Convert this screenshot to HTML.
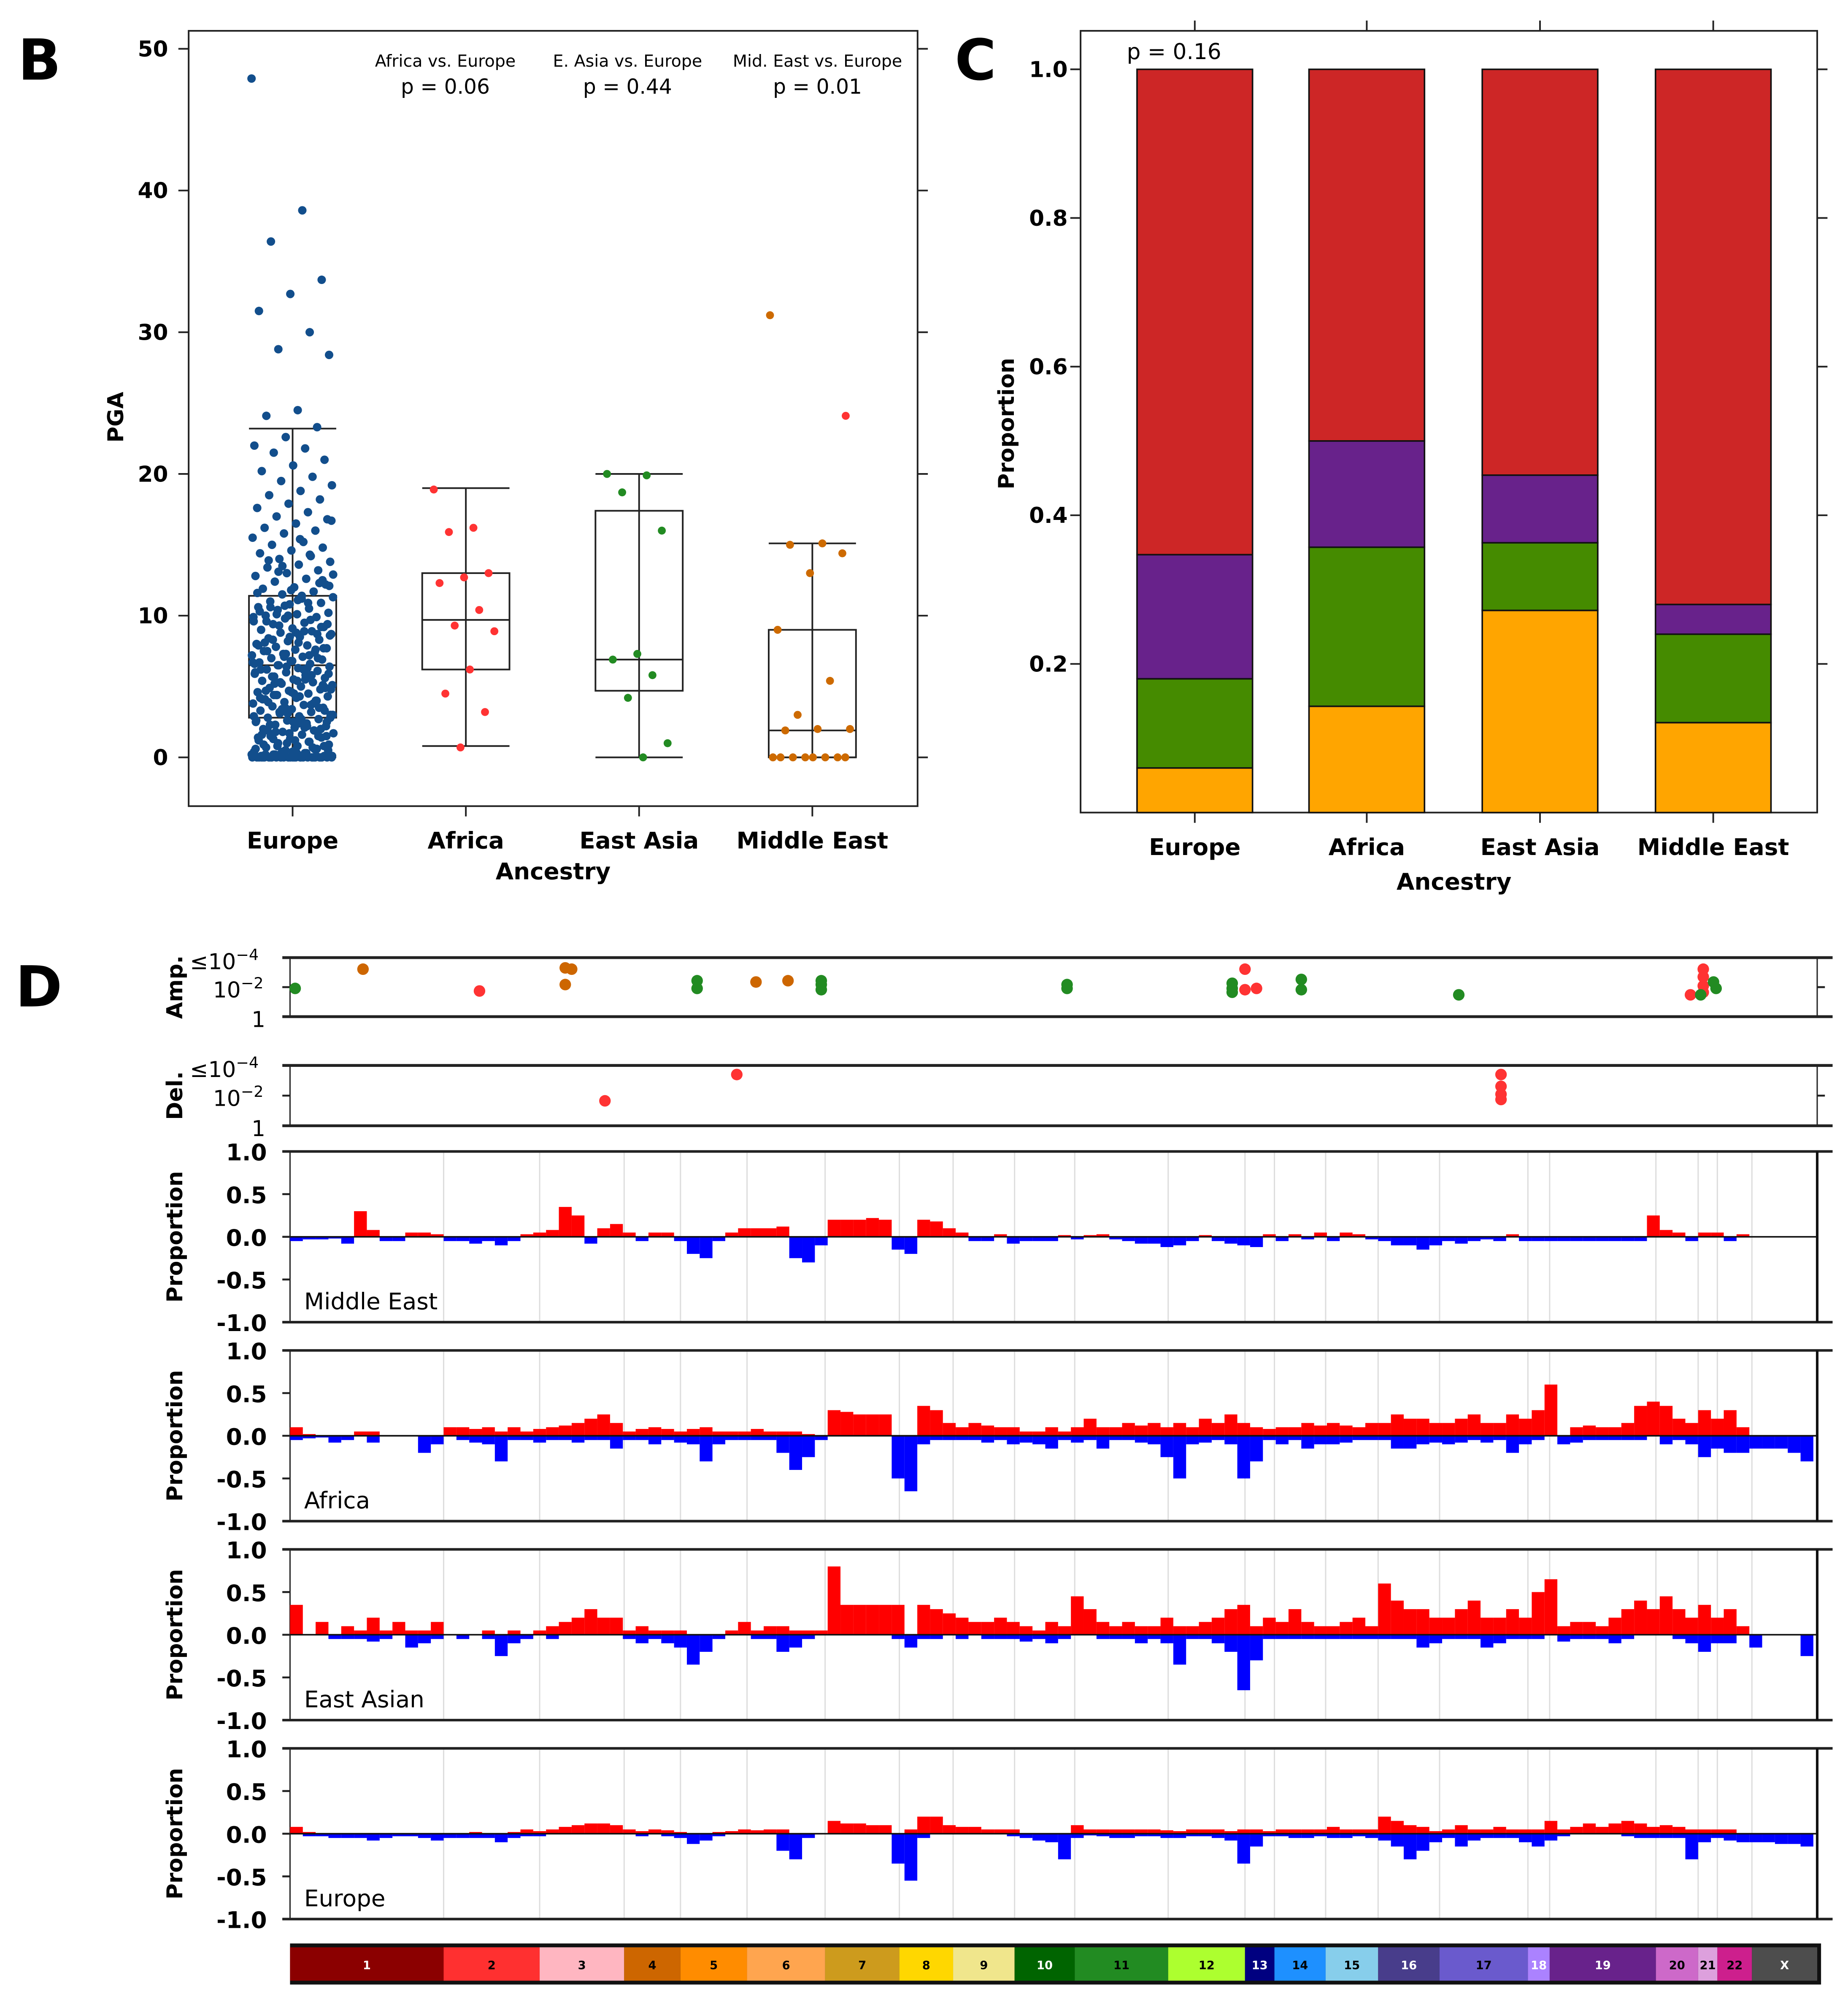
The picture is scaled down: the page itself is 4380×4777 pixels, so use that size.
<!DOCTYPE html>
<html><head><meta charset="utf-8">
<style>
html,body{margin:0;padding:0;background:#fff;}
svg{display:block;}
text{font-family:"DejaVu Sans","Liberation Sans",sans-serif;}
</style></head>
<body>
<svg id="fig" xmlns="http://www.w3.org/2000/svg" width="4380" height="4777" viewBox="0 0 1440 1570.5">
<rect x="0" y="0" width="1440" height="1571" fill="#fff"/>
<g id="panelB"></g>
<g id="panelC"></g>
<g id="panelD"></g>
</svg>
<script>
// ---------- Panel B data ----------
const bCats = ["Europe","Africa","East Asia","Middle East"];
const bTicks = [0,10,20,30,40,50];
const bBoxQ1 = [2.8,6.2,4.7,0];
const bBoxMed = [6.5,9.7,6.9,1.9];
const bBoxQ3 = [11.4,13.0,17.4,9.0];
const bWhiskLo = [0,0.8,0,0];
const bWhiskHi = [23.2,19.0,20.0,15.1];
const europeVals = [47.9,38.6,36.4,33.7,32.7,31.5,30.0,28.8,28.4,24.5,24.1,23.3,22.6,
22.0,21.8,21.5,21.0,20.6,20.2,19.8,19.5,19.2,18.8,18.5,18.2,17.9,17.6,17.3,17.0,16.8,16.5,16.2,16.0,15.8,15.5,15.2,15.0,14.8,14.6,14.4,14.2,14.0,13.8,13.6,13.4,13.2,13.0,12.8,12.6,12.4,12.2,12.0,11.9,11.7,11.5,11.3,11.2,11.0,10.9,10.8,10.6,10.5,10.4,10.2,10.1,10.0,9.9,9.8,9.6,9.5,9.4,9.2,9.1,9.0,8.9,8.8,8.7,8.5,8.4,8.3,8.2,8.0,7.9,7.8,7.7,7.6,7.5,7.4,7.3,7.2,7.1,7.0,6.9,6.8,6.7,6.6,6.5,6.4,6.3,6.2,6.1,6.0,5.9,5.8,5.7,5.6,5.5,5.4,5.3,5.2,5.1,5.0,4.9,4.8,4.7,4.6,4.5,4.4,4.3,4.2,4.1,4.0,3.9,3.8,3.7,3.6,3.5,3.4,3.3,3.2,3.1,3.0,2.9,2.8,2.7,2.6,2.5,2.4,2.3,2.2,2.1,2.0,1.9,1.8,1.7,1.6,1.5,1.4,1.3,1.2,1.1,1.0,0.9,0.8,0.7,0.6,0.5,0.4,0.3,0.2,0.1,0,0,0,0,0,0,0,0,0,0,0,0,0,0,0,0,0,0,0,0,
12.5,11.8,10.3,9.7,9.3,8.6,8.1,7.5,7.0,6.4,6.0,5.6,5.2,4.9,4.5,4.1,3.8,3.4,3.0,2.7,2.3,2.0,1.7,1.4,1.1,0.8,0.5,0.3,0.2,0.1,
10.7,9.9,8.9,8.3,7.7,6.8,6.2,5.8,5.3,4.8,4.3,3.9,3.5,3.1,2.6,2.2,1.8,1.5,1.2,0.9,0.6,0.4,0.2,0.1,0,0,0,0,
14.3,13.1,12.1,11.1,9.6,8.7,7.3,6.6,5.5,4.4,3.3,2.5,1.6,0.7,0.3,0.1,0,0,0,0,
11.6,10.9,10.1,9.4,8.8,8.1,7.6,7.1,6.7,6.2,5.7,5.1,4.6,4.2,3.7,3.2,2.8,2.4,1.9,1.5,1.0,0.6,0.3,0.2,0.1,0,0,0,
13.5,12.9,11.4,10.6,9.2,8.5,7.9,7.2,6.5,5.9,5.4,4.7,4.0,3.5,2.9,2.1,1.3,0.8,0.4,0.1,0,0,
16.7,15.4,13.9,12.3,10.0,8.0,6.3,4.4,2.5,0.5];
const africaVals = [18.9,16.2,15.9,13.0,12.7,12.3,10.4,9.3,8.9,6.2,4.5,3.2,0.7];
const eastAsiaVals = [20.0,19.9,18.7,16.0,7.3,6.9,5.8,4.2,1.0,0];
const middleEastVals = [31.2,15.1,15.0,14.4,13.0,9.0,5.4,3.0,2.0,2.0,1.9,0,0,0,0,0,0,0,0];
const middleEastRedVals = [24.1];
const bPvalLabels = ["Africa vs. Europe","E. Asia vs. Europe","Mid. East vs. Europe"];
const bPvals = ["p = 0.06","p = 0.44","p = 0.01"];

// ---------- Panel C data ----------
const cCats = ["Europe","Africa","East Asia","Middle East"];
const cTicks = [0.2,0.4,0.6,0.8,1.0];
const cOrange = [0.060,0.143,0.272,0.121];
const cGreen = [0.120,0.214,0.091,0.119];
const cPurple = [0.167,0.143,0.091,0.040];
const cRed = [0.653,0.500,0.546,0.720];

// ---------- Panel D data ----------
const chromNames = ["1","2","3","4","5","6","7","8","9","10","11","12","13","14","15","16","17","18","19","20","21","22","X"];
const chromSizes = [120,75,66,44,52,61,58,42,48,47,73,60,23,40,41,48,69,17,83,33,15,27,51];
const chromColors = ["#8b0000","#ff3030","#ffb6c1","#cd6600","#ff8c00","#ffa54f","#cd9b1d","#ffd700","#f0e68c","#006400","#228b22","#adff2f","#000080","#1e90ff","#87ceeb","#483d8b","#6a5acd","#ab82ff","#68228b","#cd69c9","#dda0dd","#cd1f8d","#4d4d4d"];
const dTicks = [1.0,0.5,0.0,-0.5,-1.0];
const ampPos = [4,57,148,215,220,215,318,318,364,389,415,415,415,607,607,736,736,736,746,746,755,790,790,913,1094,1104,1104,1104,1104,1112,1114,1102];
const ampSig = [2.0,3.5,1.8,3.6,3.5,2.3,2.6,2.0,2.5,2.6,2.6,2.3,1.9,2.3,2.0,2.4,1.7,2.0,3.5,1.9,2.0,2.7,1.9,1.5,1.5,3.5,2.9,2.2,1.7,2.5,2.0,1.5];
const ampCol = ["g","o","r","o","o","o","g","g","o","o","g","g","g","g","g","g","g","g","r","r","r","g","g","g","r","r","r","r","r","g","g","g"];
const delPos = [246,349,946,946,946,946];
const delSig = [1.7,3.7,3.7,2.8,2.2,1.8];
const meGain = [0,0,0,0,0,0.3,0.08,0,0,0.05, 0.05,0.03,0,0,0,0,0,0,0.03,0.05, 0.08,0.35,0.25,0,0.1,0.15,0.05,0,0.05,0.05, 0,0,0,0,0.05,0.1,0.1,0.1,0.12,0, 0,0,0.2,0.2,0.2,0.22,0.2,0,0,0.2, 0.18,0.1,0.05,0,0,0.03,0,0,0,0, 0.02,0,0.02,0.03,0,0,0,0,0,0, 0,0.02,0,0,0,0,0.03,0,0.03,0, 0.05,0,0.05,0.03,0,0,0,0,0,0, 0,0,0,0,0,0.03,0,0,0,0, 0,0,0,0,0,0,0.25,0.08,0.05,0, 0.05,0.05,0,0.03,0,0,0,0,0];
const meLoss = [0.05,0.03,0.03,0.02,0.08,0,0,0.05,0.05,0, 0,0,0.05,0.05,0.08,0.05,0.1,0.05,0,0, 0,0,0,0.08,0,0,0,0.05,0,0, 0.05,0.2,0.25,0.05,0,0,0,0,0,0.25, 0.3,0.1,0,0,0,0,0,0.15,0.2,0, 0,0,0,0.05,0.05,0,0.08,0.05,0.05,0.05, 0,0.03,0,0,0.03,0.05,0.08,0.08,0.12,0.1, 0.05,0,0.05,0.08,0.1,0.12,0,0.05,0,0.03, 0,0.05,0,0,0.03,0.05,0.1,0.1,0.15,0.1, 0.05,0.08,0.05,0.03,0.05,0,0.05,0.05,0.05,0.05, 0.05,0.05,0.05,0.05,0.05,0.05,0,0,0,0.05, 0,0,0.05,0,0,0,0,0,0];
const afGain = [0.1,0.02,0,0,0,0.05,0.05,0,0,0, 0,0,0.1,0.1,0.08,0.1,0.05,0.1,0.05,0.08, 0.1,0.12,0.15,0.2,0.25,0.15,0.05,0.08,0.1,0.08, 0.05,0.08,0.1,0.05,0.05,0.05,0.08,0.05,0.05,0.05, 0.02,0,0.3,0.28,0.25,0.25,0.25,0,0,0.35, 0.3,0.15,0.1,0.15,0.12,0.1,0.1,0.05,0.05,0.1, 0.05,0.1,0.2,0.1,0.1,0.15,0.12,0.15,0.1,0.15, 0.1,0.2,0.15,0.25,0.15,0.1,0.08,0.1,0.1,0.15, 0.12,0.15,0.12,0.1,0.15,0.15,0.25,0.2,0.2,0.15, 0.15,0.2,0.25,0.15,0.15,0.25,0.2,0.3,0.6,0, 0.1,0.12,0.1,0.1,0.15,0.35,0.4,0.35,0.2,0.15, 0.3,0.2,0.3,0.1,0,0,0,0,0];
const afLoss = [0.05,0.03,0.02,0.08,0.05,0,0.08,0,0,0, 0.2,0.1,0,0.05,0.08,0.1,0.3,0.05,0.05,0.08, 0.05,0.05,0.08,0.05,0.05,0.15,0.05,0.05,0.1,0.05, 0.08,0.1,0.3,0.1,0.05,0.05,0.05,0.05,0.2,0.4, 0.25,0.05,0,0,0,0,0,0.5,0.65,0.1, 0.05,0.05,0.05,0.05,0.08,0.05,0.1,0.08,0.1,0.15, 0.05,0.08,0.05,0.15,0.05,0.05,0.08,0.1,0.25,0.5, 0.1,0.08,0.05,0.1,0.5,0.3,0.05,0.1,0.05,0.15, 0.1,0.1,0.08,0.05,0.05,0.05,0.15,0.15,0.1,0.08, 0.1,0.08,0.05,0.08,0.05,0.2,0.1,0.05,0,0.1, 0.08,0.05,0.05,0.05,0.05,0.05,0,0.1,0.05,0.1, 0.25,0.15,0.2,0.2,0.15,0.15,0.15,0.2,0.3];
const eaGain = [0.35,0,0.15,0,0.1,0.05,0.2,0.05,0.15,0.05, 0.05,0.15,0,0,0,0.05,0,0.05,0,0.05, 0.1,0.15,0.2,0.3,0.2,0.2,0.05,0.1,0.05,0.05, 0.05,0,0,0,0.05,0.15,0.05,0.1,0.1,0.05, 0.05,0.05,0.8,0.35,0.35,0.35,0.35,0.35,0,0.35, 0.3,0.25,0.2,0.15,0.15,0.2,0.15,0.1,0.05,0.15, 0.1,0.45,0.3,0.15,0.1,0.15,0.1,0.1,0.2,0.1, 0.1,0.15,0.2,0.3,0.35,0.1,0.2,0.15,0.3,0.15, 0.1,0.1,0.15,0.2,0.1,0.6,0.4,0.3,0.3,0.2, 0.2,0.3,0.4,0.2,0.2,0.3,0.2,0.5,0.65,0.1, 0.15,0.15,0.1,0.2,0.3,0.4,0.3,0.45,0.3,0.2, 0.35,0.2,0.3,0.1,0,0,0,0,0];
const eaLoss = [0,0,0,0.05,0.05,0.05,0.08,0.05,0,0.15, 0.1,0.05,0,0.05,0,0.05,0.25,0.1,0.05,0, 0.05,0,0,0,0,0,0.05,0.1,0.05,0.1, 0.15,0.35,0.2,0.05,0,0,0.05,0.05,0.2,0.15, 0.05,0,0,0,0,0,0,0.05,0.15,0.05, 0.05,0,0.05,0,0.05,0.05,0.05,0.08,0.05,0.1, 0.05,0,0,0.05,0.05,0.05,0.1,0.05,0.1,0.35, 0.05,0.05,0.1,0.2,0.65,0.3,0.05,0.05,0.05,0.05, 0.05,0.05,0.05,0.05,0.05,0.05,0.05,0.05,0.15,0.1, 0.05,0.05,0.05,0.15,0.1,0.05,0.05,0.05,0,0.08, 0.05,0.05,0.05,0.1,0.05,0,0,0,0.05,0.1, 0.2,0.1,0.1,0,0.15,0,0,0,0.25];
const euGain = [0.08,0.02,0,0,0,0,0,0,0,0, 0,0,0,0,0.02,0,0,0.02,0.05,0.03, 0.05,0.08,0.1,0.12,0.12,0.1,0.05,0.03,0.05,0.04, 0.02,0,0,0.02,0.03,0.05,0.04,0.05,0.05,0, 0,0,0.15,0.12,0.12,0.1,0.1,0,0.05,0.2, 0.2,0.1,0.08,0.08,0.05,0.05,0.05,0,0,0, 0,0.1,0.05,0.05,0.05,0.05,0.05,0.05,0.04,0.03, 0.05,0.05,0.05,0.03,0.05,0.05,0.03,0.05,0.05,0.05, 0.05,0.08,0.05,0.05,0.05,0.2,0.15,0.1,0.08,0.03, 0.05,0.1,0.05,0.05,0.08,0.05,0.05,0.05,0.15,0.05, 0.08,0.12,0.08,0.12,0.15,0.12,0.08,0.1,0.08,0.05, 0.05,0.05,0.05,0,0,0,0,0,0];
const euLoss = [0,0.03,0.03,0.05,0.05,0.05,0.08,0.05,0.03,0.03, 0.05,0.08,0.05,0.05,0.05,0.05,0.1,0.05,0.03,0.03, 0,0,0,0,0,0,0,0.03,0,0.03, 0.05,0.12,0.08,0.03,0,0,0,0,0.2,0.3, 0.05,0,0,0,0,0,0,0.35,0.55,0.05, 0,0,0,0,0,0,0.03,0.05,0.08,0.1, 0.3,0.05,0.02,0.03,0.05,0.05,0.03,0.03,0.05,0.05, 0.03,0.03,0.05,0.08,0.35,0.15,0.03,0.03,0.05,0.05, 0.03,0.05,0.05,0.03,0.05,0.08,0.15,0.3,0.2,0.1, 0.05,0.15,0.08,0.05,0.05,0.05,0.1,0.15,0.08,0.03, 0,0,0,0,0.03,0.05,0.05,0.05,0.05,0.3, 0.1,0.05,0.08,0.1,0.1,0.1,0.12,0.12,0.15];
const profileNames = ["Middle East","Africa","East Asian","Europe"];

const NS = "http://www.w3.org/2000/svg";
function mk(parent, tag, attrs, txt){
  const e = document.createElementNS(NS, tag);
  for (const k in attrs) e.setAttribute(k, attrs[k]);
  if (txt !== undefined) e.textContent = txt;
  parent.appendChild(e);
  return e;
}
const B = document.getElementById('panelB');
const C = document.getElementById('panelC');
const D = document.getElementById('panelD');

// ================= Panel B =================
(function(){
  const x0=147,x1=715,y0=24,y1=628;
  const yB = v => 590 - v*11.04;
  const xCat = [228,363,498,633];
  let t = mk(B,'text',{x:14,y:62,'font-size':44,'font-weight':'bold'},'B');
   
  let f = mk(B,'rect',{x:x0,y:y0,width:x1-x0,height:y1-y0,fill:'none',stroke:'#222','stroke-width':1.3});
   
  bTicks.forEach(v=>{
    const y=yB(v);
    mk(B,'line',{x1:x0-8,x2:x0,y1:y,y2:y,stroke:'#222','stroke-width':1.3});
    mk(B,'line',{x1:x1,x2:x1+8,y1:y,y2:y,stroke:'#222','stroke-width':1.3});
    const l=mk(B,'text',{x:131,y:y+6,'font-size':17,'font-weight':'bold','text-anchor':'end'},String(v));
     
  });
  bCats.forEach((c,i)=>{
    mk(B,'line',{x1:xCat[i],x2:xCat[i],y1:y1,y2:y1+8,stroke:'#222','stroke-width':1.3});
    const l=mk(B,'text',{x:xCat[i],y:661,'font-size':18,'font-weight':'bold','text-anchor':'middle'},c);
     
  });
  let xt=mk(B,'text',{x:431,y:685,'font-size':18,'font-weight':'bold','text-anchor':'middle'},'Ancestry');
   
  let yt=mk(B,'text',{x:0,y:0,'font-size':17,'font-weight':'bold','text-anchor':'middle',transform:'translate(96,325) rotate(-90)'},'PGA');
   
  const pX=[347,489,637];
  bPvalLabels.forEach((s,i)=>{
    const a=mk(B,'text',{x:pX[i],y:52,'font-size':13,'text-anchor':'middle'},s);
     
    const b=mk(B,'text',{x:pX[i],y:73,'font-size':16,'text-anchor':'middle'},bPvals[i]);
     
  });
  bCats.forEach((c,i)=>{
    const cx=xCat[i], hw=34;
    const g=mk(B,'g',{});
     
    mk(g,'line',{x1:cx,x2:cx,y1:yB(bWhiskLo[i]),y2:yB(bWhiskHi[i]),stroke:'#222','stroke-width':1.3});
    mk(g,'line',{x1:cx-hw,x2:cx+hw,y1:yB(bWhiskHi[i]),y2:yB(bWhiskHi[i]),stroke:'#222','stroke-width':1.3});
    mk(g,'line',{x1:cx-hw,x2:cx+hw,y1:yB(bWhiskLo[i]),y2:yB(bWhiskLo[i]),stroke:'#222','stroke-width':1.3});
    mk(g,'rect',{x:cx-hw,y:yB(bBoxQ3[i]),width:2*hw,height:yB(bBoxQ1[i])-yB(bBoxQ3[i]),fill:'none',stroke:'#222','stroke-width':1.3});
    mk(g,'line',{x1:cx-hw,x2:cx+hw,y1:yB(bBoxMed[i]),y2:yB(bBoxMed[i]),stroke:'#222','stroke-width':1.3});
  });
  function pts(vals, ci, col, w, name, r){
    vals.forEach((v,k)=>{
      const j=((k*0.6180339)%1)-0.5;
      const p=mk(B,'circle',{cx:xCat[ci]+j*w, cy:yB(v), r:r, fill:col});
       
    });
  }
  pts(europeVals,0,'#124e8c',64,'europe-point',3.3);
  pts(africaVals,1,'#ff3333',50,'africa-point',3.1);
  pts(eastAsiaVals,2,'#228b22',50,'east-asia-point',3.1);
  pts(middleEastVals,3,'#cd6a00',66,'middle-east-point',3.1);
  middleEastRedVals.forEach(v=>{
    const p=mk(B,'circle',{cx:659,cy:yB(v),r:3.1,fill:'#ff3333'});
     
  });
})();

// ================= Panel C =================
(function(){
  const x0=842,x1=1416,y0=24,y1=633;
  const yC = v => 633 - v*579;
  const xCat=[931,1065,1200,1335];
  let t=mk(C,'text',{x:744,y:62,'font-size':44,'font-weight':'bold'},'C');
   
  let f=mk(C,'rect',{x:x0,y:y0,width:x1-x0,height:y1-y0,fill:'none',stroke:'#222','stroke-width':1.3});
   
  cTicks.forEach(v=>{
    const y=yC(v);
    mk(C,'line',{x1:x0-8,x2:x0,y1:y,y2:y,stroke:'#222','stroke-width':1.3});
    mk(C,'line',{x1:x1,x2:x1+8,y1:y,y2:y,stroke:'#222','stroke-width':1.3});
    const l=mk(C,'text',{x:832,y:y+6,'font-size':17,'font-weight':'bold','text-anchor':'end'},v.toFixed(1));
     
  });
  const segs=[[cOrange,'#ffa500','orange'],[cGreen,'#458b00','green'],[cPurple,'#68228b','purple'],[cRed,'#cd2626','red']];
  cCats.forEach((c,i)=>{
    mk(C,'line',{x1:xCat[i],x2:xCat[i],y1:y1,y2:y1+8,stroke:'#222','stroke-width':1.3});
    mk(C,'line',{x1:xCat[i],x2:xCat[i],y1:y0-8,y2:y0,stroke:'#222','stroke-width':1.3});
    let base=0;
    segs.forEach(s=>{
      const v=s[0][i];
      const r=mk(C,'rect',{x:xCat[i]-45,y:yC(base+v),width:90,height:yC(base)-yC(base+v),fill:s[1],stroke:'#111','stroke-width':1.2});
       
      base+=v;
    });
    const l=mk(C,'text',{x:xCat[i],y:666,'font-size':18,'font-weight':'bold','text-anchor':'middle'},c);
     
  });
  let p=mk(C,'text',{x:878,y:46,'font-size':17},'p = 0.16');
   
  let xt=mk(C,'text',{x:1133,y:693,'font-size':18,'font-weight':'bold','text-anchor':'middle'},'Ancestry');
   
  let yt=mk(C,'text',{x:0,y:0,'font-size':17,'font-weight':'bold','text-anchor':'middle',transform:'translate(790,330) rotate(-90)'},'Proportion');
   
})();

// ================= Panel D =================
(function(){
  const gx0=226, gx1=1416;
  const total=chromSizes.reduce((a,b)=>a+b,0);
  const xG = u => gx0 + u*(1190/total);
  const bounds=[0]; chromSizes.forEach(s=>bounds.push(bounds[bounds.length-1]+s));
  let t=mk(D,'text',{x:12,y:784,'font-size':44,'font-weight':'bold'},'D');
   

  const colMap={g:'#228b22',o:'#cd6600',r:'#ff3333'};
  function sigPanel(top,bot,label,pos,sig,cols,name){
    const ySig = s => bot - 2 - s*((bot-top-6)/4);
    const g=mk(D,'g',{});
     
    mk(g,'line',{x1:gx0-6,x2:gx1+12,y1:top,y2:top,stroke:'#222','stroke-width':2.2});
    mk(g,'line',{x1:gx0-6,x2:gx1+12,y1:bot,y2:bot,stroke:'#222','stroke-width':2.2});
    mk(g,'line',{x1:gx0,x2:gx0,y1:top,y2:bot,stroke:'#222','stroke-width':1});
    mk(g,'line',{x1:gx1,x2:gx1,y1:top,y2:bot,stroke:'#222','stroke-width':1});
    const mid=(top+bot)/2;
    mk(g,'line',{x1:gx0-6,x2:gx0,y1:mid,y2:mid,stroke:'#222','stroke-width':1.5});
    mk(g,'line',{x1:gx1,x2:gx1+6,y1:mid,y2:mid,stroke:'#222','stroke-width':1.5});
    const a=mk(g,'text',{x:148,y:top+9,'font-size':17},'≤10');
    mk(a,'tspan',{dy:-7,'font-size':12},'−4');
    const b=mk(g,'text',{x:166,y:mid+8,'font-size':17},'10');
    mk(b,'tspan',{dy:-7,'font-size':12},'−2');
    mk(g,'text',{x:196,y:bot+8,'font-size':17},'1');
    const yl=mk(g,'text',{x:0,y:0,'font-size':17,'font-weight':'bold','text-anchor':'middle',transform:'translate(142,'+mid+') rotate(-90)'},label);
     
    pos.forEach((p,k)=>{
      const c=mk(g,'ellipse',{cx:xG(p),cy:ySig(sig[k]),rx:4.5,ry:4.5,fill:colMap[cols[k]]});
       
    });
  }
  sigPanel(746,792,'Amp.',ampPos,ampSig,ampCol,'amplification-panel');
  sigPanel(830,877,'Del.',delPos,delSig,delPos.map(()=>'r'),'deletion-panel');

  const profTop=[897,1052,1207,1362];
  const gains=[meGain,afGain,eaGain,euGain];
  const losses=[meLoss,afLoss,eaLoss,euLoss];
  profTop.forEach((top,pi)=>{
    const zero=top+66.5, sc=66.5, bot=top+133;
    const yP = v => zero - v*sc;
    const g=mk(D,'g',{});
     
    bounds.slice(1,-1).forEach(b=>mk(g,'line',{x1:xG(b),x2:xG(b),y1:top,y2:bot,stroke:'#ddd','stroke-width':1}));
    mk(g,'line',{x1:gx0-6,x2:gx1+12,y1:top,y2:top,stroke:'#222','stroke-width':2});
    mk(g,'line',{x1:gx0-6,x2:gx1+12,y1:bot,y2:bot,stroke:'#222','stroke-width':2});
    mk(g,'line',{x1:gx0,x2:gx0,y1:top,y2:bot,stroke:'#222','stroke-width':1});
    mk(g,'line',{x1:gx1,x2:gx1,y1:top,y2:bot,stroke:'#111','stroke-width':2});
    dTicks.forEach(v=>{
      mk(g,'line',{x1:gx0-6,x2:gx0,y1:yP(v),y2:yP(v),stroke:'#222','stroke-width':1.5});
      const l=mk(g,'text',{x:208,y:yP(v)+7,'font-size':18,'font-weight':'bold','text-anchor':'end'},v.toFixed(1));
       
    });
    const yl=mk(g,'text',{x:0,y:0,'font-size':17,'font-weight':'bold','text-anchor':'middle',transform:'translate(142,'+zero+') rotate(-90)'},'Proportion');
     
    gains[pi].forEach((v,k)=>{
      if(v<=0) return;
      const r=mk(g,'rect',{x:xG(k*10),y:yP(v),width:xG(10)-xG(0),height:v*sc,fill:'#ff0000'});
       
    });
    losses[pi].forEach((v,k)=>{
      if(v<=0) return;
      const r=mk(g,'rect',{x:xG(k*10),y:zero,width:xG(10)-xG(0),height:v*sc,fill:'#0000ff'});
       
    });
    mk(g,'line',{x1:gx0,x2:gx1,y1:zero,y2:zero,stroke:'#111','stroke-width':1.2});
    const nl=mk(g,'text',{x:237,y:bot-10,'font-size':18},profileNames[pi]);
     
  });

  const cb=mk(D,'g',{});
   
  mk(cb,'rect',{x:gx0,y:1514,width:1193,height:32,fill:'#111'});
  const light=new Set(["2","3","4","5","6","7","8","9","11","12","14","15","17","20","21","22"]);
  chromNames.forEach((n,i)=>{
    const xa=xG(bounds[i]), xb=xG(bounds[i+1]);
    const r=mk(cb,'rect',{x:xa,y:1517,width:xb-xa,height:26,fill:chromColors[i]});
     
    const l=mk(cb,'text',{x:(xa+xb)/2,y:1534,'font-size':9,'font-weight':'bold','text-anchor':'middle',fill:light.has(n)?'#000':'#fff'},n);
     
  });
})();
</script>
</body></html>
